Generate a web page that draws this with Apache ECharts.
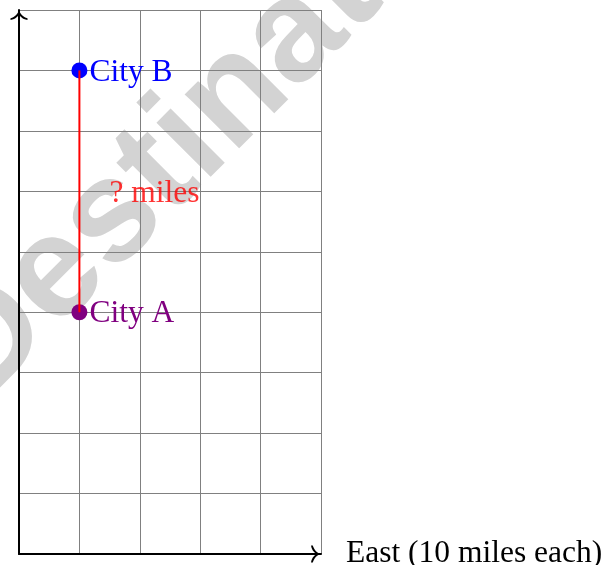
<!DOCTYPE html>
<html>
<head>
<meta charset="utf-8">
<script src="https://cdn.jsdelivr.net/npm/echarts@6/dist/echarts.min.js"></script>
<style>
html,body{margin:0;padding:0;background:#fff;overflow:hidden;}
#chart{width:604px;height:565px;}
</style>
</head>
<body>
<div id="chart"></div>
<script>
// ---- data ----
var cityNames = ['City A', 'City B'];
var cityX = [1, 1];
var cityY = [4, 8];
var cityColors = ['#800080', '#0000ff'];
var distanceLabel = '? miles';
var xAxisName = 'East (10 miles each)';
var xMin = 0, xMax = 5;
var yMin = 0, yMax = 9;
var watermarkText = 'Destination';

// ---- build ----
var chart = echarts.init(document.getElementById('chart'), null, {renderer: 'canvas', width: 604, height: 565});
var serif = '"Liberation Serif", "DejaVu Serif", serif';
var arrowPath = 'path://M9 0 C9.8 3.5 13 7 17.5 8.2 L17.5 10 C12 9 9.6 6 9 3.5 C8.4 6 6 9 0.5 10 L0.5 8.2 C5 7 8.2 3.5 9 0 Z';

var cityData = cityNames.map(function (n, i) {
  return {
    name: n,
    value: [cityX[i], cityY[i]],
    itemStyle: {color: cityColors[i], opacity: 1},
    label: {color: cityColors[i]}
  };
});
var lineData = cityNames.map(function (n, i) { return [cityX[i], cityY[i]]; });
var mid = [(cityX[0] + cityX[1]) / 2, (cityY[0] + cityY[1]) / 2];

var axisCommon = {
  type: 'value',
  interval: 1,
  axisTick: {show: false},
  axisLabel: {show: false},
  splitLine: {show: true, lineStyle: {color: '#808080', width: 1}},
  axisLine: {
    show: true,
    onZero: false,
    symbol: ['none', arrowPath],
    symbolSize: [18, 10],
    symbolOffset: [0, -5],
    lineStyle: {color: '#000', width: 2}
  }
};

var option = {
  animation: false,
  backgroundColor: '#fff',
  grid: {left: 19, width: 302, top: 10, height: 544, containLabel: false, outerBoundsMode: 'none'},
  xAxis: Object.assign({}, axisCommon, {
    min: xMin, max: xMax,
    name: xAxisName,
    nameLocation: 'end',
    nameGap: 25,
    nameTextStyle: {fontFamily: serif, fontSize: 31.5, color: '#000', verticalAlign: 'middle'}
  }),
  yAxis: Object.assign({}, axisCommon, {min: yMin, max: yMax}),
  graphic: [{
    type: 'text',
    z: -100,
    silent: true,
    x: -47,
    y: 378,
    rotation: Math.PI / 4,
    style: {
      text: watermarkText,
      fill: '#d3d3d3',
      font: 'bold 145px "Liberation Sans", Arial, sans-serif',
      textAlign: 'left',
      textVerticalAlign: 'middle'
    }
  }],
  series: [
    {
      type: 'scatter',
      data: cityData,
      symbolSize: 16,
      z: 3,
      itemStyle: {opacity: 1},
      label: {
        show: true,
        position: 'right',
        distance: 2,
        offset: [0, 2],
        formatter: '{b}',
        fontFamily: serif,
        fontSize: 31.5
      }
    },
    {
      type: 'line',
      data: lineData,
      showSymbol: false,
      symbol: 'none',
      z: 4,
      lineStyle: {color: '#ff0000', width: 2}
    },
    {
      type: 'scatter',
      data: [{value: mid, name: distanceLabel}],
      symbolSize: 0,
      z: 5,
      label: {
        show: true,
        position: 'right',
        distance: 30,
        offset: [0, 2],
        formatter: '{b}',
        fontFamily: serif,
        fontSize: 31.5,
        color: '#ff0000'
      }
    }
  ]
};
chart.setOption(option);
</script>
</body>
</html>
